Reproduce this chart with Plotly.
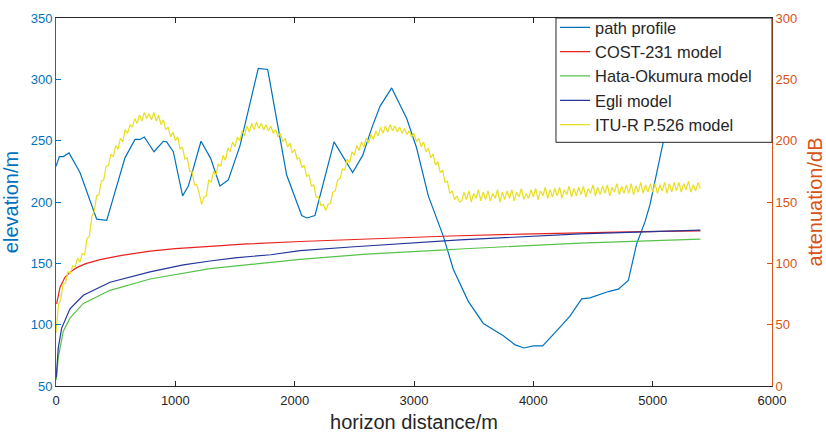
import plotly.graph_objects as go

# ---------------- data ----------------
profile_d = [0, 28, 61, 109, 201, 341, 425, 578, 662, 704, 740, 821, 899, 927, 983, 1061, 1109,
             1215, 1296, 1374, 1444, 1542, 1695, 1774, 1933, 2059, 2101, 2170, 2330, 2486, 2570,
             2645, 2715, 2813, 2939, 3022, 3120, 3204, 3246, 3330, 3455, 3581, 3749, 3847, 3922,
             4000, 4078, 4195, 4307, 4405, 4475, 4629, 4712, 4796, 4866, 4936, 4978, 5089, 5200, 5400]
profile_elev = [229, 237, 237, 240, 224, 186, 185, 236, 251, 251, 253, 241, 249.5, 249, 241, 205, 213,
                249.5, 235.6, 213, 218, 246, 309, 308, 222, 189, 187, 189, 249, 224, 238,
                260, 278, 293, 268, 244, 205, 184, 172, 145, 119, 101, 91, 83.5, 81,
                82.7, 82.7, 95, 107, 121, 121.8, 127, 129, 136, 166, 184, 198, 249, 290, 340]

cost_d = [5, 20, 34, 75, 120, 173, 250, 369, 550, 788, 1000, 1291, 1600, 2045, 2600, 3302, 3900, 4391, 4900, 5400]
cost_att = [67, 75, 80.6, 88.6, 93, 96.5, 99.8, 103, 106.5, 109.9, 112, 113.9, 115.8, 117.8, 120, 122.3, 123.8, 125, 125.8, 126.5]

hata_d = [2, 19, 61, 117, 229, 453, 788, 1067, 1291, 2045, 2600, 3302, 3385, 4391, 5400]
hata_att = [5, 23.4, 44.7, 55.3, 67.3, 78, 87.2, 92, 95.7, 103.2, 107.5, 111.2, 111.7, 116.5, 119.7]

egli_d = [2, 19, 47, 117, 229, 453, 788, 1067, 1291, 1500, 1800, 2045, 2500, 3246, 3385, 4391, 5400]
egli_att = [7, 31, 47, 63, 74, 84.6, 93, 98.7, 101.9, 104.5, 107, 110.4, 113.5, 118.6, 119.1, 124, 127.1]

itu_d = list(range(0, 5401, 20))
itu_att = [
    43, 66, 71, 83, 84, 93, 92, 98, 97, 104,
    101, 108, 107, 120, 122, 138, 142, 155, 156, 167,
    168, 179, 180, 189, 187, 196, 193, 202, 199, 209,
    206, 213, 211, 218, 214, 221, 216, 223, 218, 222,
    217, 223, 216, 221, 213, 217, 209, 211, 203, 207,
    200, 203, 193, 195, 185, 186, 175, 175, 164, 164,
    157, 148, 154, 155, 168, 166, 175, 172, 181, 179,
    188, 184, 194, 191, 199, 195, 203, 200, 208, 204,
    212, 207, 214, 209, 215, 210, 214, 209, 213, 208,
    212, 206, 209, 203, 206, 199, 202, 195, 198, 190,
    193, 185, 186, 178, 180, 171, 172, 163, 164, 154,
    154, 147, 148, 143, 148, 149, 158, 159, 168, 169,
    177, 176, 185, 182, 191, 188, 196, 192, 199, 195,
    202, 198, 205, 201, 208, 204, 211, 206, 212, 207,
    213, 208, 212, 207, 211, 206, 210, 205, 208, 203,
    206, 199, 202, 195, 199, 191, 194, 186, 189, 180,
    183, 174, 176, 166, 167, 157, 159, 152, 155, 150,
    151, 158, 152, 159, 150, 157, 153, 160, 151, 158,
    152, 159, 151, 157, 153, 160, 150, 158, 152, 159,
    153, 160, 151, 158, 154, 161, 152, 157, 153, 160,
    154, 161, 152, 159, 155, 162, 153, 160, 154, 161,
    155, 162, 153, 160, 156, 163, 154, 161, 155, 162,
    156, 163, 154, 161, 157, 164, 155, 162, 156, 163,
    157, 164, 155, 162, 158, 165, 156, 163, 157, 164,
    157, 165, 156, 163, 158, 166, 157, 164, 158, 165,
    158, 165, 157, 164, 159, 166, 157, 165, 158, 166,
    159, 166, 158, 165, 160, 167, 158, 164, 159, 166,
    161,
]

x_ticks = [0, 1000, 2000, 3000, 4000, 5000, 6000]
left_ticks = [50, 100, 150, 200, 250, 300, 350]
right_ticks = [0, 50, 100, 150, 200, 250, 300]

# ---------------- styles ----------------
BLUE = "#0072BD"
ORANGE = "#D95319"
FONT = "Liberation Sans, Arial, sans-serif"

fig = go.Figure()
fig.add_trace(go.Scatter(x=profile_d, y=profile_elev, mode="lines", name="path profile",
                         line=dict(color=BLUE, width=1.2), yaxis="y", legendgroup="a"))
fig.add_trace(go.Scatter(x=cost_d, y=cost_att, mode="lines", name="COST-231 model",
                         line=dict(color="#E8231E", width=1.2), yaxis="y2", legendgroup="b"))
fig.add_trace(go.Scatter(x=hata_d, y=hata_att, mode="lines", name="Hata-Okumura model",
                         line=dict(color="#55C24A", width=1.2), yaxis="y2", legendgroup="c"))
fig.add_trace(go.Scatter(x=egli_d, y=egli_att, mode="lines", name="Egli model",
                         line=dict(color="#23369A", width=1.2), yaxis="y2", legendgroup="d"))
fig.add_trace(go.Scatter(x=itu_d, y=itu_att, mode="lines", name="ITU-R P.526 model",
                         line=dict(color="#E8DF1E", width=1.2), yaxis="y2", legendgroup="e"))

# legend frame (opaque box in the top-right corner of the axes)
fig.add_shape(type="rect", xref="paper", yref="paper", x0=0.6983, x1=1.0, y0=0.6622, y1=1.0,
              fillcolor="white", line=dict(color="#262626", width=1), layer="above")

fig.update_layout(
    width=826, height=438,
    margin=dict(l=56, r=54, t=10, b=52),
    paper_bgcolor="white", plot_bgcolor="white",
    font=dict(family=FONT, size=13, color="#262626"),
    xaxis=dict(range=[0, 6000], tickvals=x_ticks, ticks="inside", ticklen=5, tickcolor="#262626",
               showline=True, linecolor="#262626", linewidth=1, mirror="ticks", showgrid=False,
               zeroline=False, tickfont=dict(size=13, color="#262626"), ticklabelstandoff=2,
               automargin=False,
               title=dict(text="horizon distance/m", font=dict(size=20, color="#262626"), standoff=8)),
    yaxis=dict(range=[50, 350], tickvals=left_ticks, ticks="inside", ticklen=5, tickcolor=BLUE,
               showline=True, linecolor=BLUE, linewidth=1, showgrid=False, zeroline=False,
               tickfont=dict(size=13, color=BLUE), automargin=False,
               title=dict(text="elevation/m", font=dict(size=20, color=BLUE), standoff=6)),
    yaxis2=dict(range=[0, 300], tickvals=right_ticks, ticks="inside", ticklen=5, tickcolor=ORANGE,
                overlaying="y", side="right", anchor="x", automargin=False,
                showline=True, linecolor=ORANGE, linewidth=1, showgrid=False, zeroline=False,
                tickfont=dict(size=13, color=ORANGE),
                title=dict(text="attenuation/dB", font=dict(size=20, color=ORANGE), standoff=14)),
    legend=dict(x=0.697, y=1.0213, xanchor="left", yanchor="top", bgcolor="rgba(0,0,0,0)",
                borderwidth=0, font=dict(size=16.4, color="#262626"),
                itemwidth=30, tracegroupgap=0),
    showlegend=True,
)

fig.write_html("out.html")
